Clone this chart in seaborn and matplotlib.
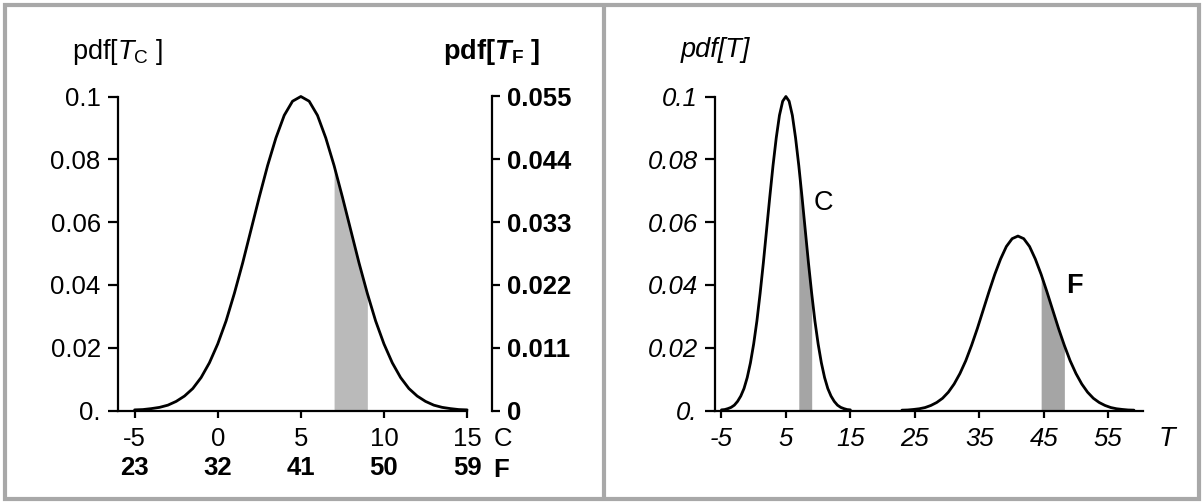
import matplotlib
matplotlib.use("Agg")
import matplotlib.pyplot as plt
from matplotlib.patches import Rectangle
from matplotlib.lines import Line2D
import numpy as np
import pandas as pd
import seaborn as sns

# pdf of the temperature in Celsius, every 0.5 degree
temp_c = np.arange(-5, 15.5, 0.5)
pdf_c = [0.0002, 0.0003, 0.0006, 0.0010, 0.0017, 0.0029, 0.0046, 0.0070, 0.0105,
         0.0152, 0.0212, 0.0285, 0.0373, 0.0470, 0.0575, 0.0680, 0.0780, 0.0868,
         0.0940, 0.0985, 0.1000, 0.0985, 0.0940, 0.0868, 0.0780, 0.0680, 0.0575,
         0.0470, 0.0373, 0.0285, 0.0212, 0.0152, 0.0105, 0.0070, 0.0046, 0.0029,
         0.0017, 0.0010, 0.0006, 0.0003, 0.0002]
shade_c = [7, 9]

c_ticks = [-5, 0, 5, 10, 15]
f_ticks = [23, 32, 41, 50, 59]
left_yticks = [0, 0.02, 0.04, 0.06, 0.08, 0.1]
left_ylabels = ["0.", "0.02", "0.04", "0.06", "0.08", "0.1"]
right_yticks = [0, 0.011, 0.022, 0.033, 0.044, 0.055]
right_ylabels = ["0", "0.011", "0.022", "0.033", "0.044", "0.055"]
t_ticks = [-5, 5, 15, 25, 35, 45, 55]


def c_to_f(c):
    return 32 + 1.8 * np.asarray(c)


def f_to_c(f):
    return (np.asarray(f) - 32) / 1.8


df_c = pd.DataFrame({"T": temp_c, "pdf": pdf_c})
df_f = pd.DataFrame({"T": c_to_f(temp_c), "pdf": np.asarray(pdf_c) / 1.8})

sns.set_theme(style="ticks")
plt.rcParams["font.family"] = ["Liberation Sans", "DejaVu Sans"]
plt.rcParams["text.color"] = "black"
plt.rcParams["mathtext.fontset"] = "custom"
plt.rcParams["mathtext.rm"] = "Liberation Sans"
plt.rcParams["mathtext.it"] = "Liberation Sans:italic"
plt.rcParams["mathtext.bf"] = "Liberation Sans:bold"
plt.rcParams["mathtext.bfit"] = "Liberation Sans:bold:italic"

FS = 18.5
LW = 1.6
CURVE_LW = 2.0
W, H = 1204, 504

fig = plt.figure(figsize=(W / 100, H / 100), dpi=100)
fig.patch.set_facecolor("white")

y0, y1 = 410.5, 96.5
ax1 = fig.add_axes([118 / W, (H - y0) / H, (492 - 118) / W, (y0 - y1) / H])
ax2 = fig.add_axes([715 / W, (H - y0) / H, (1143 - 715) / W, (y0 - y1) / H])

# ---- left panel: Celsius with Fahrenheit second scales
mask = (df_c["T"] >= shade_c[0]) & (df_c["T"] <= shade_c[1])
ax1.fill_between(df_c["T"][mask], df_c["pdf"][mask], color="#bababa", lw=0)
sns.lineplot(data=df_c, x="T", y="pdf", ax=ax1, color="black", lw=CURVE_LW, clip_on=False)
ax1.set_xlim(-6, 16.5)
ax1.set_ylim(0, 0.1)
ax1.set_xlabel("")
ax1.set_ylabel("")
for s in ["top", "right"]:
    ax1.spines[s].set_visible(False)
for s in ["left", "bottom"]:
    ax1.spines[s].set_linewidth(LW)
    ax1.spines[s].set_color("black")
ax1.spines["bottom"].set_bounds(-6, 15)
ax1.set_xticks(c_ticks)
ax1.set_xticklabels([str(t) for t in c_ticks], fontsize=FS)
ax1.set_yticks(left_yticks)
ax1.set_yticklabels(left_ylabels, fontsize=FS)
ax1.tick_params(axis="y", length=7.5, width=LW, pad=5, colors="black")
ax1.tick_params(axis="x", length=5, width=LW, pad=7, colors="black")

sec = ax1.secondary_xaxis("bottom", functions=(c_to_f, f_to_c))
sec.set_xticks(f_ticks)
sec.set_xticklabels([str(t) for t in f_ticks], fontsize=FS, fontweight="bold")
sec.tick_params(length=0, pad=33, colors="black")
sec.spines["bottom"].set_visible(False)

twin = ax1.twinx()
twin.set_ylim(0, 0.055)
for s in ["top", "left", "bottom"]:
    twin.spines[s].set_visible(False)
twin.spines["right"].set_linewidth(LW)
twin.spines["right"].set_color("black")
twin.set_yticks(right_yticks)
twin.set_yticklabels(right_ylabels, fontsize=FS, fontweight="bold")
twin.tick_params(axis="y", length=6, width=LW, pad=5, colors="black")

ax1.text(0, 1.142, r"pdf[$\mathit{T}_{\mathrm{C}}$ ]", transform=ax1.transAxes,
         ha="center", va="center", fontsize=FS + 1)
ax1.text(1, 1.142, r"$\mathbf{pdf[}\mathbfit{T}_{\mathbf{F}}\ \mathbf{]}$",
         transform=ax1.transAxes, ha="center", va="center", fontsize=FS + 1)
ax1.annotate("C", xy=(15, 0), xycoords=("data", "axes fraction"), xytext=(19, -20.5),
             textcoords="offset points", ha="left", va="center", fontsize=FS)
ax1.annotate("F", xy=(15, 0), xycoords=("data", "axes fraction"), xytext=(19, -42.5),
             textcoords="offset points", ha="left", va="center", fontsize=FS,
             fontweight="bold")

# ---- right panel: both curves on one temperature axis
mask_f = (df_f["T"] >= c_to_f(shade_c[0])) & (df_f["T"] <= c_to_f(shade_c[1]))
ax2.fill_between(df_c["T"][mask], df_c["pdf"][mask], color="#a5a5a5", lw=0)
ax2.fill_between(df_f["T"][mask_f], df_f["pdf"][mask_f], color="#a5a5a5", lw=0)
sns.lineplot(data=df_c, x="T", y="pdf", ax=ax2, color="black", lw=CURVE_LW, clip_on=False)
sns.lineplot(data=df_f, x="T", y="pdf", ax=ax2, color="black", lw=CURVE_LW, clip_on=False)
ax2.set_xlim(-6, 60.4)
ax2.set_ylim(0, 0.1)
ax2.set_xlabel("")
ax2.set_ylabel("")
for s in ["top", "right"]:
    ax2.spines[s].set_visible(False)
for s in ["left", "bottom"]:
    ax2.spines[s].set_linewidth(LW)
    ax2.spines[s].set_color("black")
ax2.set_xticks(t_ticks)
ax2.set_xticklabels([str(t) for t in t_ticks], fontsize=FS, fontstyle="italic")
ax2.set_yticks(left_yticks)
ax2.set_yticklabels(left_ylabels, fontsize=FS, fontstyle="italic")
ax2.tick_params(axis="y", length=7.5, width=LW, pad=5, colors="black")
ax2.tick_params(axis="x", length=5, width=LW, pad=7, colors="black")

ax2.text(0, 1.148, "pdf[T]", transform=ax2.transAxes, ha="center", va="center",
         fontsize=FS + 1, fontstyle="italic")
ax2.annotate("T", xy=(55, 0), xycoords=("data", "axes fraction"), xytext=(42, -20.5),
             textcoords="offset points", ha="center", va="center", fontsize=FS + 1,
             fontstyle="italic")
ax2.text(10.8, 0.066, "C", fontsize=FS + 1, ha="center", va="center")
ax2.text(49.7, 0.0396, "F", fontsize=FS + 1, ha="center", va="center", fontweight="bold")

# ---- grey frame and divider
frame_col = "#a8a8a8"
fig.patches.append(Rectangle((5 / W, 5 / H), (W - 10) / W, (H - 10) / H, fill=False,
                             edgecolor=frame_col, lw=3, transform=fig.transFigure))
fig.lines.append(Line2D([604 / W, 604 / W], [5 / H, 1 - 5 / H], color=frame_col, lw=3,
                        transform=fig.transFigure))

fig.savefig("out.png", dpi=100)
